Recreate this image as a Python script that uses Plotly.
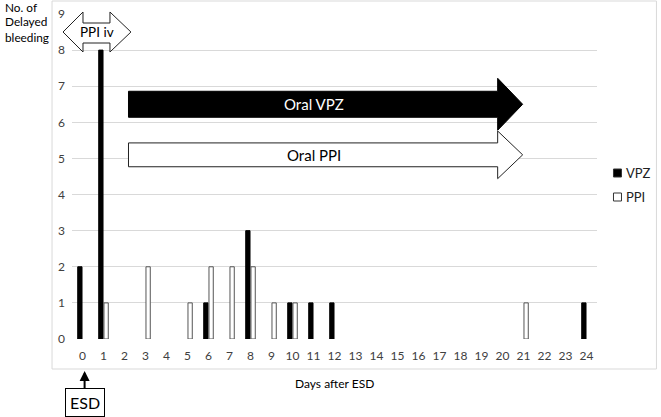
import plotly.graph_objects as go

# data
days = list(range(25))
vpz = [2, 8, 0, 0, 0, 0, 1, 0, 3, 0, 1, 1, 1, 0, 0, 0, 0, 0, 0, 0, 0, 0, 0, 0, 1]
ppi = [0, 1, 0, 2, 0, 1, 2, 2, 2, 1, 1, 0, 0, 0, 0, 0, 0, 0, 0, 0, 0, 1, 0, 0, 0]
x_ticks = [str(d) for d in days]
series_names = ["VPZ", "PPI"]
y_title = ["No. of", "Delayed", "bleeding"]

FONT = "Lato"

# plot area in pixels (661x417 page)
L, R, T, B = 72, 597.5, 14, 339
W, H = 661, 417


def px(x):
    return (x - L) / (R - L)


def py(y):
    return (B - y) / (B - T)


fig = go.Figure()
fig.add_trace(go.Bar(
    x=days, y=[v if v else None for v in vpz], name=series_names[0],
    marker=dict(color="black", line=dict(color="black", width=1)),
))
fig.add_trace(go.Bar(
    x=days, y=[v if v else None for v in ppi], name=series_names[1],
    marker=dict(color="white", line=dict(color="#555555", width=1)),
))

shapes = []
# outer chart border
shapes.append(dict(type="rect", xref="paper", yref="paper",
                   x0=px(52), x1=px(657), y0=py(369), y1=py(1),
                   line=dict(color="#d9d9d9", width=1), fillcolor="rgba(0,0,0,0)",
                   layer="below"))


def arrow_path(x0, x1, xt, yc, hs, hh):
    # shaft x0->x1, head from x1 to tip xt, shaft half height hs, head half height hh
    return (f"M{x0},{yc - hs} L{x1},{yc - hs} L{x1},{yc - hh} L{xt},{yc} "
            f"L{x1},{yc + hh} L{x1},{yc + hs} L{x0},{yc + hs} Z")


# oral VPZ (black) and oral PPI (white) arrows, data coords
shapes.append(dict(type="path", xref="x", yref="y",
                   path=arrow_path(2.19, 19.77, 20.96, 6.50, 0.36, 0.72),
                   fillcolor="black", line=dict(color="black", width=1)))
shapes.append(dict(type="path", xref="x", yref="y",
                   path=arrow_path(2.19, 19.77, 20.96, 5.10, 0.33, 0.66),
                   fillcolor="white", line=dict(color="#222222", width=1)))

# PPI iv double arrow, paper coords
a, b, c, d = px(63), px(83), px(110), px(131)
yc, ht, hb, st, sb = py(32), py(12), py(52), py(23), py(43)
shapes.append(dict(type="path", xref="paper", yref="paper",
                   path=(f"M{a},{yc} L{b},{ht} L{b},{st} L{c},{st} L{c},{ht} L{d},{yc} "
                         f"L{c},{hb} L{c},{sb} L{b},{sb} L{b},{hb} Z"),
                   fillcolor="white", line=dict(color="#222222", width=1)))

# hand-made legend squares
legend_y = [173, 197]
legend_fill = ["black", "white"]
for yy, fc in zip(legend_y, legend_fill):
    shapes.append(dict(type="rect", xref="paper", yref="paper",
                       x0=px(614), x1=px(622), y0=py(yy + 4), y1=py(yy - 4),
                       fillcolor=fc, line=dict(color="#333333", width=1)))

annotations = [
    dict(x=11.0, y=6.50, xref="x", yref="y", text="Oral VPZ", showarrow=False,
         font=dict(family=FONT, size=15, color="white")),
    dict(x=11.0, y=5.10, xref="x", yref="y", text="Oral PPI", showarrow=False,
         font=dict(family=FONT, size=15, color="black")),
    dict(x=(a + d) / 2, y=yc, xref="paper", yref="paper", xanchor="center",
         yanchor="middle", text="PPI iv", showarrow=False,
         font=dict(family=FONT, size=13.5, color="black")),
    dict(x=px(335), y=py(383), xref="paper", yref="paper", xanchor="center",
         yanchor="middle", text="Days after ESD",
         showarrow=False, font=dict(family=FONT, size=12, color="black")),
    dict(x=0.1, y=py(371), xref="x", yref="paper", text="ESD", showarrow=True,
         ax=0, ay=31, arrowhead=2, arrowsize=1, arrowwidth=2, arrowcolor="black",
         bordercolor="black", borderwidth=1, borderpad=4, bgcolor="white",
         font=dict(family=FONT, size=16, color="black")),
]
for i, line in enumerate(y_title):
    annotations.append(dict(x=px(3), y=py(7 + 15 * i), xref="paper", yref="paper",
                            xanchor="left", yanchor="middle", text=line, showarrow=False,
                            font=dict(family=FONT, size=11.8, color="black")))
for yy, name in zip(legend_y, series_names):
    annotations.append(dict(x=px(625), y=py(yy), xref="paper", yref="paper",
                            xanchor="left", yanchor="middle", text=name, showarrow=False,
                            font=dict(family=FONT, size=13, color="#222222")))

fig.update_layout(
    width=W, height=H,
    margin=dict(l=L, r=W - R, t=T, b=H - B),
    paper_bgcolor="white", plot_bgcolor="white",
    barmode="group", bargap=0.5, bargroupgap=0.18,
    font=dict(family=FONT, size=12, color="#404040"),
    shapes=shapes, annotations=annotations, showlegend=False,
    xaxis=dict(range=[-0.5, 24.5], tickmode="array", tickvals=days, ticktext=x_ticks,
               showgrid=False, zeroline=False, showline=False, ticks="",
               ticklabelstandoff=8, automargin=False),
    yaxis=dict(range=[0, 9], dtick=1, showgrid=True, gridcolor="#d9d9d9",
               zeroline=False, showline=False, ticks="", ticklabelstandoff=6,
               automargin=False),
)

fig.write_html("out.html", config={"displayModeBar": False},
               post_script="document.body.style.margin='0';")
